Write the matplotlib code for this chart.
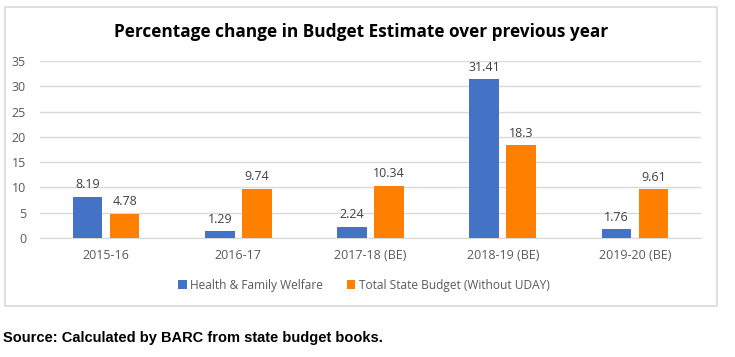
import numpy as np
import matplotlib.pyplot as plt
from matplotlib.patches import Rectangle

years = ["2015-16", "2016-17", "2017-18 (BE)", "2018-19 (BE)", "2019-20 (BE)"]
health = [8.19, 1.29, 2.24, 31.41, 1.76]
total_budget = [4.78, 9.74, 10.34, 18.3, 9.61]
health_labels = ["8.19", "1.29", "2.24", "31.41", "1.76"]
total_labels = ["4.78", "9.74", "10.34", "18.3", "9.61"]

blue = "#4472C4"
orange = "#FF7F00"
grey = "#595959"

plt.rcParams['font.family'] = ['Open Sans', 'DejaVu Sans']

fig = plt.figure(figsize=(7.35, 3.57), dpi=100)
fig.patches.append(Rectangle((5/735, 1-306/357), 712/735, 299/357, transform=fig.transFigure,
                             fill=False, edgecolor="#D9D9D9", linewidth=1.2))

ax = fig.add_axes([40/735, 1-238/357, 661/735, 177/357])
x = np.arange(len(years))
w = 0.225
b1 = ax.bar(x - 0.14, health, w, color=blue, label="Health & Family Welfare", zorder=3)
b2 = ax.bar(x + 0.14, total_budget, w, color=orange, label="Total State Budget (Without UDAY)", zorder=3)
ax.bar_label(b1, labels=health_labels, padding=4, color="#404040", fontsize=9)
ax.bar_label(b2, labels=total_labels, padding=4, color="#404040", fontsize=9)

ax.set_ylim(0, 35)
ax.set_xlim(-0.5, len(years) - 0.5)
ax.set_yticks(range(0, 36, 5))
ax.set_xticks(x)
ax.set_xticklabels(years)
ax.tick_params(axis='both', length=0, colors=grey, labelsize=9)
ax.tick_params(axis='x', pad=8)
ax.tick_params(axis='y', pad=10)
ax.grid(axis='y', color="#D9D9D9", linewidth=1, zorder=0)
for s in ["top", "right", "left"]:
    ax.spines[s].set_visible(False)
ax.spines["bottom"].set_color("#D9D9D9")

fig.text(361/735, 1-32/357, "Percentage change in Budget Estimate over previous year",
         ha="center", va="center", fontsize=12.4, fontweight="bold", color="black")

leg = fig.legend(handles=[b1, b2], loc="center", bbox_to_anchor=(364/735, 1-285/357), ncol=2,
                 frameon=False, fontsize=8.6, handlelength=0.7, handleheight=0.7,
                 handletextpad=0.3, columnspacing=2.0)
for t in leg.get_texts():
    t.set_color(grey)

fig.text(3/735, 1-338/357, "Source: Calculated by BARC from state budget books.",
         ha="left", va="center", fontsize=10.5, fontweight="bold", family="Liberation Sans")

fig.savefig("out.png", dpi=100)
